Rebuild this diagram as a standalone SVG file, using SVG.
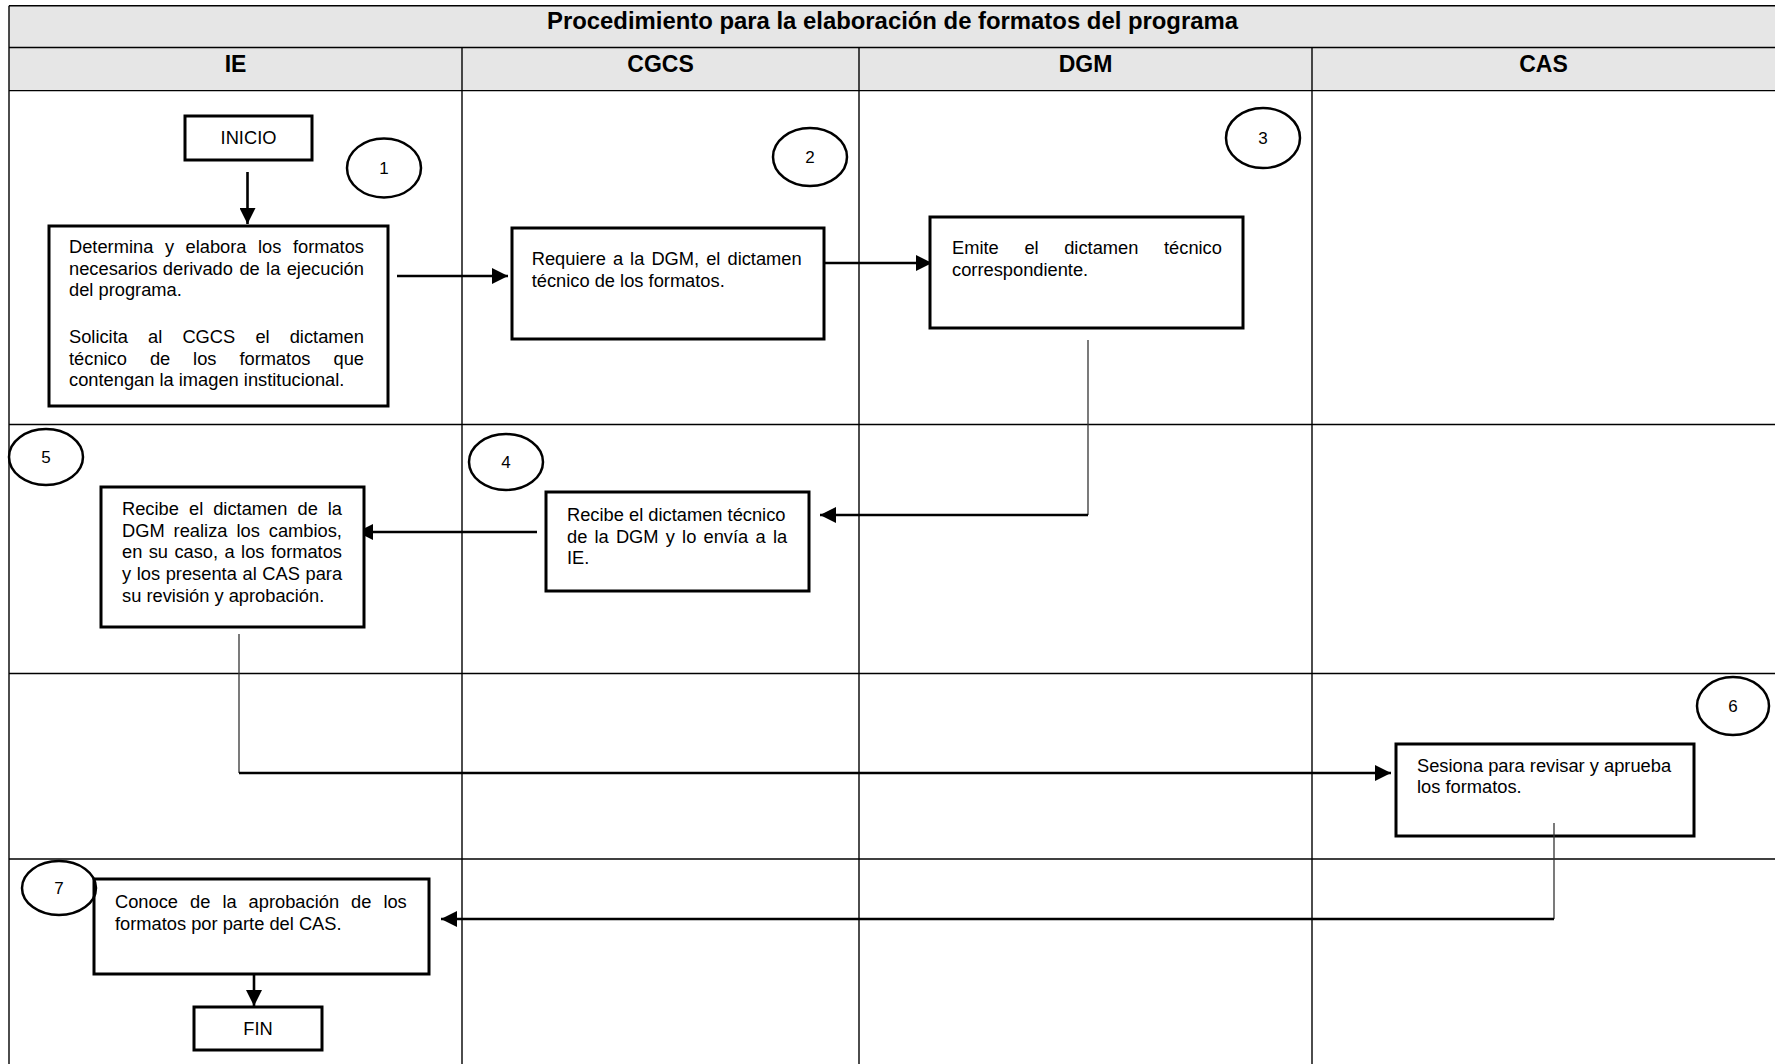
<svg xmlns="http://www.w3.org/2000/svg" width="1775" height="1064" viewBox="0 0 1775 1064">
<defs>
<style>
.grid{stroke:#000;stroke-width:1.4;fill:none}
.box{fill:#fff;stroke:#000;stroke-width:3}
.circ{fill:none;stroke:#000;stroke-width:2.5}
.t{font-family:"Liberation Sans",Arial,sans-serif;font-size:18.3px;fill:#000}
.num{font-family:"Liberation Sans",Arial,sans-serif;font-size:17px;fill:#000;text-anchor:middle}
.hd{font-family:"Liberation Sans",Arial,sans-serif;font-size:23px;font-weight:bold;fill:#000;text-anchor:middle}
.c{text-anchor:middle}
.thick{stroke:#000;stroke-width:2.6;fill:none}
.thin{stroke:#333;stroke-width:1.3;fill:none}
</style>
<marker id="ah" markerWidth="16" markerHeight="16" viewBox="0 0 16 16" refX="16" refY="8" orient="auto" markerUnits="userSpaceOnUse">
<path d="M0,0 L16,8 L0,16 z" fill="#000"/>
</marker>
</defs>
<rect x="0" y="0" width="1775" height="1064" fill="#fff"/>
<g id="table">
<rect x="9" y="5.7" width="1775" height="84.9" fill="#e6e6e6"/>
<line class="grid" x1="9" y1="5.7" x2="1775" y2="5.7"/>
<line class="grid" x1="9" y1="47.5" x2="1775" y2="47.5"/>
<line class="grid" x1="9" y1="90.6" x2="1775" y2="90.6"/>
<line class="grid" x1="9" y1="424.5" x2="1775" y2="424.5"/>
<line class="grid" x1="9" y1="673.5" x2="1775" y2="673.5"/>
<line class="grid" x1="9" y1="859" x2="1775" y2="859"/>
<line class="grid" x1="9" y1="5.7" x2="9" y2="1064"/>
<line class="grid" x1="462" y1="47.5" x2="462" y2="1064"/>
<line class="grid" x1="859" y1="47.5" x2="859" y2="1064"/>
<line class="grid" x1="1312" y1="47.5" x2="1312" y2="1064"/>
<text class="hd" x="892.5" y="29" textLength="691" lengthAdjust="spacingAndGlyphs">Procedimiento para la elaboración de formatos del programa</text>
<text class="hd" x="235.5" y="72">IE</text>
<text class="hd" x="660.5" y="72">CGCS</text>
<text class="hd" x="1085.5" y="72">DGM</text>
<text class="hd" x="1543.5" y="72">CAS</text>
</g>
<g id="connectors">
<line class="thick" x1="247.5" y1="172" x2="247.5" y2="224" marker-end="url(#ah)"/>
<line class="thick" x1="397" y1="276" x2="508" y2="276" marker-end="url(#ah)"/>
<line class="thick" x1="824" y1="263" x2="932" y2="263" marker-end="url(#ah)"/>
<line class="thin" x1="1088" y1="340" x2="1088" y2="515"/>
<line class="thick" x1="1088" y1="515" x2="820" y2="515" marker-end="url(#ah)"/>
<line class="thick" x1="537" y1="532" x2="357" y2="532" marker-end="url(#ah)"/>
<line class="thin" x1="239" y1="634" x2="239" y2="773"/>
<line class="thick" x1="239" y1="773" x2="1391" y2="773" marker-end="url(#ah)"/>
<line class="thick" x1="254" y1="974" x2="254" y2="1006" marker-end="url(#ah)"/>
</g>
<g id="inicio">
<rect class="box" x="185" y="116" width="127" height="44"/>
<text class="t c" x="248.5" y="144">INICIO</text>
</g>
<g id="step1">
<rect class="box" x="49" y="226" width="339" height="180"/>
<text class="t"><tspan x="69" y="253">Determina</tspan><tspan x="164.9" y="253">y</tspan><tspan x="185.5" y="253">elabora</tspan><tspan x="258" y="253">los</tspan><tspan x="292.9" y="253">formatos</tspan></text>
<text class="t"><tspan x="69" y="274.5">necesarios</tspan><tspan x="162.8" y="274.5">derivado</tspan><tspan x="239.4" y="274.5">de</tspan><tspan x="266.1" y="274.5">la</tspan><tspan x="286.7" y="274.5">ejecución</tspan></text>
<text class="t" x="69" y="296">del programa.</text>
<text class="t"><tspan x="69" y="343">Solicita</tspan><tspan x="148.1" y="343">al</tspan><tspan x="182.4" y="343">CGCS</tspan><tspan x="255.4" y="343">el</tspan><tspan x="289.7" y="343">dictamen</tspan></text>
<text class="t"><tspan x="69" y="364.5">técnico</tspan><tspan x="149.9" y="364.5">de</tspan><tspan x="193.1" y="364.5">los</tspan><tspan x="239.4" y="364.5">formatos</tspan><tspan x="333.5" y="364.5">que</tspan></text>
<text class="t" x="69" y="386">contengan la imagen institucional.</text>
</g>
<g id="n1"><ellipse class="circ" cx="384" cy="168" rx="37" ry="29.5"/><text class="num" x="384" y="174">1</text></g>
<g id="step2">
<rect class="box" x="512" y="228" width="312" height="111"/>
<text class="t"><tspan x="531.7" y="265">Requiere</tspan><tspan x="612.9" y="265">a</tspan><tspan x="630.1" y="265">la</tspan><tspan x="651.4" y="265">DGM,</tspan><tspan x="706.2" y="265">el</tspan><tspan x="727.5" y="265">dictamen</tspan></text>
<text class="t" x="531.7" y="287">técnico de los formatos.</text>
</g>
<g id="n2"><ellipse class="circ" cx="810" cy="157" rx="37" ry="29"/><text class="num" x="810" y="163">2</text></g>
<g id="step3">
<rect class="box" x="930" y="217" width="313" height="111"/>
<text class="t"><tspan x="952" y="254">Emite</tspan><tspan x="1024.4" y="254">el</tspan><tspan x="1064.2" y="254">dictamen</tspan><tspan x="1164" y="254">técnico</tspan></text>
<text class="t" x="952" y="275.5">correspondiente.</text>
</g>
<g id="n3"><ellipse class="circ" cx="1263" cy="138" rx="37" ry="30"/><text class="num" x="1263" y="144">3</text></g>
<g id="step4">
<rect class="box" x="546" y="492" width="263" height="99"/>
<text class="t" x="567" y="521">Recibe el dictamen técnico</text>
<text class="t"><tspan x="567" y="542.5">de</tspan><tspan x="594.5" y="542.5">la</tspan><tspan x="615.9" y="542.5">DGM</tspan><tspan x="665.8" y="542.5">y</tspan><tspan x="682.1" y="542.5">lo</tspan><tspan x="703.5" y="542.5">envía</tspan><tspan x="755.5" y="542.5">a</tspan><tspan x="772.9" y="542.5">la</tspan></text>
<text class="t" x="567" y="564">IE.</text>
</g>
<g id="n4"><ellipse class="circ" cx="506" cy="462" rx="37" ry="28"/><text class="num" x="506" y="468">4</text></g>
<g id="step5">
<rect class="box" x="101" y="487" width="263" height="140"/>
<text class="t"><tspan x="122" y="515">Recibe</tspan><tspan x="189" y="515">el</tspan><tspan x="213.2" y="515">dictamen</tspan><tspan x="297.5" y="515">de</tspan><tspan x="327.8" y="515">la</tspan></text>
<text class="t"><tspan x="122" y="536.7">DGM</tspan><tspan x="173.6" y="536.7">realiza</tspan><tspan x="236.5" y="536.7">los</tspan><tspan x="268.8" y="536.7">cambios,</tspan></text>
<text class="t"><tspan x="122" y="558.4">en</tspan><tspan x="148.7" y="558.4">su</tspan><tspan x="174.4" y="558.4">caso,</tspan><tspan x="224.5" y="558.4">a</tspan><tspan x="241.1" y="558.4">los</tspan><tspan x="270.9" y="558.4">formatos</tspan></text>
<text class="t"><tspan x="122" y="580.1">y</tspan><tspan x="136.7" y="580.1">los</tspan><tspan x="165.7" y="580.1">presenta</tspan><tspan x="242.5" y="580.1">al</tspan><tspan x="262.3" y="580.1">CAS</tspan><tspan x="305.5" y="580.1">para</tspan></text>
<text class="t" x="122" y="601.8">su revisión y aprobación.</text>
</g>
<g id="n5"><ellipse class="circ" cx="46" cy="457" rx="37" ry="28"/><text class="num" x="46" y="463">5</text></g>
<g id="step6">
<rect class="box" x="1396" y="744" width="298" height="92"/>
<text class="t" x="1417" y="772">Sesiona para revisar y aprueba</text>
<text class="t" x="1417" y="793">los formatos.</text>
</g>
<g id="n6"><ellipse class="circ" cx="1733" cy="706" rx="36" ry="29"/><text class="num" x="1733" y="712">6</text></g>
<g id="connectors-back">
<line class="thin" x1="1554" y1="823" x2="1554" y2="919"/>
<line class="thick" x1="1554" y1="919" x2="441" y2="919" marker-end="url(#ah)"/>
</g>
<g id="step7">
<rect class="box" x="94" y="879" width="335" height="95"/>
<text class="t"><tspan x="115" y="908">Conoce</tspan><tspan x="190.1" y="908">de</tspan><tspan x="222.4" y="908">la</tspan><tspan x="248.6" y="908">aprobación</tspan><tspan x="351.1" y="908">de</tspan><tspan x="383.4" y="908">los</tspan></text>
<text class="t" x="115" y="929.5">formatos por parte del CAS.</text>
</g>
<g id="n7"><ellipse class="circ" cx="59" cy="888" rx="37" ry="27"/><text class="num" x="59" y="894">7</text></g>
<g id="fin">
<rect class="box" x="194" y="1007" width="128" height="43"/>
<text class="t c" x="258" y="1035">FIN</text>
</g>
</svg>
